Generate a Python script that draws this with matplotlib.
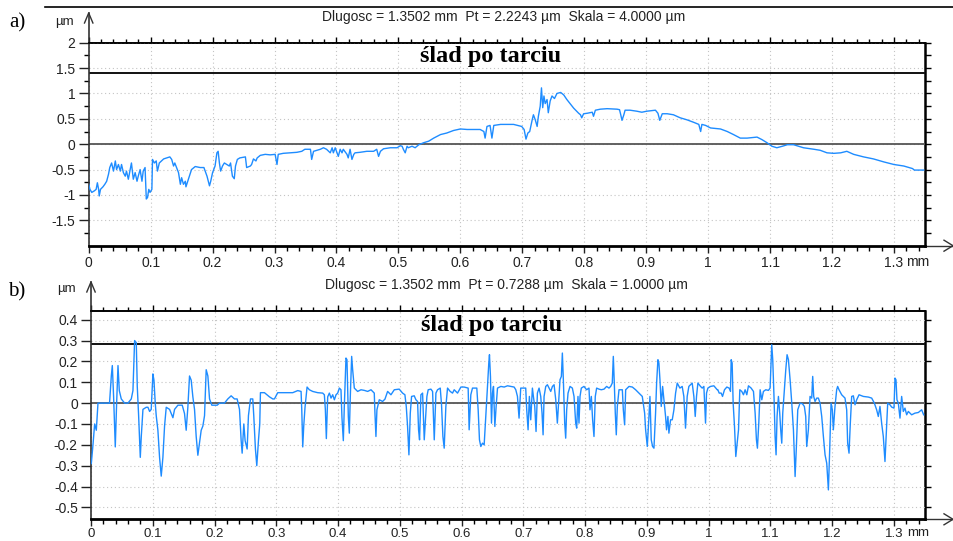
import matplotlib
matplotlib.use('Agg')
import matplotlib.pyplot as plt
from matplotlib.ticker import MultipleLocator, FixedLocator, FuncFormatter, NullLocator
from matplotlib.lines import Line2D

plt.rcParams['font.family'] = ['Liberation Sans', 'DejaVu Sans']
plt.rcParams['axes.unicode_minus'] = False

# ---------------- data: panel a (profile, mm / um) ----------------
a_x = [0.000, 0.002, 0.005, 0.009, 0.012, 0.014, 0.016, 0.017, 0.019, 0.023, 0.026, 0.029,
       0.032, 0.034, 0.037, 0.040, 0.043, 0.045, 0.048, 0.051, 0.053, 0.056, 0.059, 0.061,
       0.064, 0.067, 0.069, 0.072, 0.075, 0.078, 0.080, 0.083, 0.086, 0.088, 0.091, 0.093,
       0.095, 0.097, 0.099, 0.102, 0.103, 0.106, 0.109, 0.111, 0.114, 0.121, 0.126, 0.131,
       0.134, 0.137, 0.139, 0.145, 0.148, 0.150, 0.153, 0.156, 0.157, 0.161, 0.166, 0.172,
       0.180, 0.186, 0.191, 0.195, 0.197, 0.200, 0.204, 0.207, 0.209, 0.211, 0.213, 0.216,
       0.219, 0.223, 0.227, 0.229, 0.232, 0.235, 0.237, 0.240, 0.244, 0.253, 0.255, 0.261,
       0.263, 0.266, 0.270, 0.272, 0.277, 0.285, 0.293, 0.301, 0.304, 0.306, 0.314, 0.325,
       0.336, 0.344, 0.349, 0.358, 0.360, 0.363, 0.374, 0.379, 0.384, 0.390, 0.393, 0.395,
       0.398, 0.403, 0.406, 0.409, 0.411, 0.417, 0.419, 0.422, 0.425, 0.428, 0.430, 0.438,
       0.449, 0.460, 0.465, 0.468, 0.471, 0.476, 0.487, 0.498, 0.503, 0.506, 0.508, 0.511,
       0.514, 0.516, 0.522, 0.527, 0.533, 0.541, 0.549, 0.557, 0.568, 0.578, 0.589, 0.600,
       0.611, 0.632, 0.638, 0.640, 0.643, 0.648, 0.651, 0.654, 0.665, 0.686, 0.699, 0.703,
       0.706, 0.709, 0.712, 0.716, 0.718, 0.721, 0.724, 0.726, 0.729, 0.731, 0.733, 0.735,
       0.737, 0.740, 0.742, 0.745, 0.748, 0.752, 0.756, 0.762, 0.767, 0.772, 0.783, 0.791,
       0.794, 0.796, 0.799, 0.805, 0.813, 0.815, 0.818, 0.826, 0.837, 0.853, 0.857, 0.859,
       0.861, 0.864, 0.866, 0.874, 0.885, 0.893, 0.901, 0.915, 0.919, 0.922, 0.926, 0.934,
       0.944, 0.955, 0.966, 0.977, 0.985, 0.988, 0.990, 0.996, 1.004, 1.020, 1.031, 1.041,
       1.052, 1.063, 1.079, 1.087, 1.095, 1.103, 1.111, 1.120, 1.128, 1.138, 1.146, 1.154,
       1.171, 1.181, 1.192, 1.203, 1.214, 1.224, 1.235, 1.251, 1.267, 1.284, 1.300, 1.316,
       1.330, 1.333, 1.337, 1.348]
a_y = [-0.79, -0.89, -0.95, -0.92, -0.89, -0.76, -0.89, -1.02, -0.89, -0.84, -0.79, -0.73,
       -0.59, -0.46, -0.37, -0.53, -0.33, -0.50, -0.40, -0.53, -0.40, -0.56, -0.63, -0.53,
       -0.69, -0.50, -0.37, -0.69, -0.56, -0.73, -0.63, -0.50, -0.73, -0.53, -0.46, -1.08,
       -1.05, -0.89, -0.95, -0.89, -0.30, -0.37, -0.33, -0.53, -0.37, -0.29, -0.27, -0.25,
       -0.30, -0.43, -0.37, -0.56, -0.79, -0.66, -0.79, -0.73, -0.84, -0.69, -0.50, -0.44,
       -0.46, -0.46, -0.63, -0.82, -0.73, -0.56, -0.43, -0.17, -0.14, -0.37, -0.53, -0.43,
       -0.37, -0.40, -0.43, -0.37, -0.63, -0.68, -0.43, -0.30, -0.27, -0.25, -0.46, -0.43,
       -0.40, -0.29, -0.33, -0.27, -0.22, -0.20, -0.21, -0.20, -0.40, -0.20, -0.18, -0.17,
       -0.16, -0.14, -0.10, -0.10, -0.30, -0.14, -0.10, -0.07, -0.10, -0.17, -0.07, -0.17,
       -0.07, -0.24, -0.10, -0.17, -0.10, -0.20, -0.27, -0.10, -0.30, -0.20, -0.17, -0.16,
       -0.14, -0.14, -0.10, -0.24, -0.14, -0.09, -0.07, -0.07, -0.03, -0.04, -0.10, -0.17,
       -0.04, -0.07, -0.04, -0.07, -0.01, 0.03, 0.06, 0.12, 0.19, 0.22, 0.27, 0.30,
       0.29, 0.29, 0.25, 0.12, 0.35, 0.37, 0.12, 0.37, 0.39, 0.39, 0.35, 0.29,
       0.10, 0.22, 0.25, 0.48, 0.58, 0.48, 0.35, 0.55, 0.75, 1.11, 0.72, 0.95,
       0.80, 0.88, 0.62, 0.85, 0.95, 0.90, 1.00, 1.02, 0.97, 0.88, 0.71, 0.61,
       0.58, 0.52, 0.60, 0.61, 0.63, 0.55, 0.67, 0.69, 0.70, 0.69, 0.68, 0.58,
       0.47, 0.58, 0.67, 0.67, 0.65, 0.63, 0.65, 0.67, 0.61, 0.47, 0.60, 0.60,
       0.58, 0.52, 0.48, 0.43, 0.39, 0.25, 0.39, 0.37, 0.32, 0.30, 0.25, 0.19,
       0.12, 0.12, 0.14, 0.09, 0.03, -0.04, -0.07, -0.04, -0.01, -0.01, -0.04, -0.07,
       -0.10, -0.12, -0.17, -0.18, -0.17, -0.14, -0.20, -0.25, -0.29, -0.35, -0.40, -0.43,
       -0.48, -0.51, -0.51, -0.51]

# ---------------- data: panel b (profile, mm / um) ----------------
b_x = [0.0005, 0.0032, 0.0059, 0.0086, 0.0113, 0.0300, 0.0329, 0.0345, 0.0366, 0.0383, 0.0393,
       0.0415, 0.0437, 0.0458, 0.0490, 0.0544, 0.0598, 0.0652, 0.0679, 0.0706, 0.0733, 0.0749,
       0.0771, 0.0798, 0.0814, 0.0841, 0.0895, 0.0922, 0.0949, 0.0975, 0.1002, 0.1019, 0.1040,
       0.1056, 0.1083, 0.1110, 0.1137, 0.1164, 0.1191, 0.1218, 0.1272, 0.1326, 0.1353, 0.1407,
       0.1477, 0.1514, 0.1541, 0.1568, 0.1595, 0.1622, 0.1649, 0.1676, 0.1703, 0.1730, 0.1784,
       0.1811, 0.1838, 0.1865, 0.1892, 0.1919, 0.1956, 0.2043, 0.2080, 0.2161, 0.2215, 0.2269,
       0.2323, 0.2366, 0.2404, 0.2431, 0.2447, 0.2474, 0.2495, 0.2528, 0.2549, 0.2582, 0.2619,
       0.2635, 0.2662, 0.2684, 0.2711, 0.2732, 0.2743, 0.2808, 0.2889, 0.2943, 0.2970, 0.3023,
       0.3104, 0.3185, 0.3266, 0.3347,
       0.3401, 0.3412, 0.3428, 0.3444, 0.3465, 0.3498, 0.3535, 0.3589, 0.3670, 0.3751, 0.3778,
       0.3794, 0.3810, 0.3832, 0.3859, 0.3886, 0.3913, 0.3940, 0.3967, 0.3994, 0.4021, 0.4047,
       0.4063, 0.4085, 0.4101, 0.4128, 0.4144, 0.4166, 0.4182, 0.4198, 0.4220, 0.4236, 0.4263,
       0.4317, 0.4371, 0.4425, 0.4479, 0.4533, 0.4586, 0.4597, 0.4613, 0.4629, 0.4667, 0.4721,
       0.4759, 0.4802, 0.4856, 0.4910, 0.4990, 0.5044, 0.5082, 0.5104, 0.5125, 0.5147, 0.5169,
       0.5190, 0.5233, 0.5260, 0.5287, 0.5303, 0.5319, 0.5341, 0.5368, 0.5395, 0.5411, 0.5438,
       0.5459, 0.5503, 0.5530, 0.5557, 0.5584, 0.5610, 0.5654, 0.5675, 0.5697, 0.5718, 0.5745,
       0.5772, 0.5815, 0.5853, 0.5880, 0.5934, 0.5988, 0.6041, 0.6106, 0.6122, 0.6149, 0.6176,
       0.6246, 0.6268, 0.6289, 0.6311, 0.6338, 0.6365, 0.6392, 0.6419, 0.6440, 0.6451, 0.6467,
       0.6484, 0.6500, 0.6516, 0.6538, 0.6559, 0.6581, 0.6635, 0.6689, 0.6743,
       0.6850, 0.6877, 0.6904, 0.6930, 0.6957, 0.7001, 0.7038, 0.7054, 0.7076, 0.7097, 0.7119,
       0.7146, 0.7162, 0.7184, 0.7205, 0.7227, 0.7254, 0.7281, 0.7302, 0.7319, 0.7335, 0.7362,
       0.7389, 0.7416, 0.7443, 0.7470, 0.7497, 0.7524, 0.7550, 0.7567, 0.7593, 0.7615, 0.7631,
       0.7647, 0.7669, 0.7685, 0.7701, 0.7723, 0.7755, 0.7793, 0.7820, 0.7847, 0.7863, 0.7884,
       0.7900, 0.7917, 0.7938, 0.7981, 0.8024, 0.8062, 0.8078, 0.8100, 0.8121, 0.8143, 0.8164,
       0.8186, 0.8224, 0.8261, 0.8305, 0.8348, 0.8386, 0.8413, 0.8439, 0.8456, 0.8472, 0.8488,
       0.8504, 0.8521, 0.8548, 0.8602, 0.8618, 0.8639, 0.8656, 0.8710, 0.8764, 0.8817, 0.8871,
       0.8925, 0.8963, 0.8979, 0.9006, 0.9033, 0.9049, 0.9070, 0.9092, 0.9114, 0.9140, 0.9157,
       0.9178, 0.9194, 0.9211, 0.9232, 0.9254, 0.9275, 0.9302, 0.9318, 0.9340, 0.9356, 0.9383,
       0.9410, 0.9437, 0.9464, 0.9491, 0.9534, 0.9571, 0.9598, 0.9625, 0.9652, 0.9679, 0.9733,
       0.9760, 0.9782, 0.9803, 0.9825, 0.9868, 0.9895, 0.9922, 0.9949, 0.9965, 0.9987, 1.0030,
       1.0084, 1.0138,
       1.0148, 1.0170, 1.0202, 1.0224, 1.0256, 1.0294, 1.0331, 1.0353, 1.0364, 1.0380, 1.0396,
       1.0418, 1.0439, 1.0461, 1.0483, 1.0504, 1.0536, 1.0563, 1.0590, 1.0617, 1.0644, 1.0687,
       1.0725, 1.0752, 1.0773, 1.0789, 1.0811, 1.0833, 1.0860, 1.0886, 1.0924, 1.0967, 1.0994,
       1.1021, 1.1037, 1.1059, 1.1075, 1.1091, 1.1107, 1.1129, 1.1150, 1.1166, 1.1183, 1.1199,
       1.1226, 1.1248, 1.1269, 1.1291, 1.1318, 1.1345, 1.1372, 1.1399, 1.1420, 1.1442, 1.1479,
       1.1517, 1.1549, 1.1571, 1.1587, 1.1614, 1.1641, 1.1668, 1.1684, 1.1700, 1.1722, 1.1749,
       1.1776, 1.1803, 1.1830, 1.1857, 1.1884, 1.1911, 1.1938, 1.1959, 1.1981, 1.2002, 1.2018,
       1.2045, 1.2072, 1.2088, 1.2110, 1.2153, 1.2207, 1.2234, 1.2250, 1.2272, 1.2293, 1.2315,
       1.2342, 1.2369, 1.2396, 1.2434, 1.2504, 1.2585, 1.2639, 1.2682, 1.2719, 1.2746, 1.2773,
       1.2800, 1.2827, 1.2854, 1.2881, 1.2898, 1.2935, 1.2962, 1.3000, 1.3016, 1.3032, 1.3048,
       1.3070, 1.3097, 1.3124, 1.3151, 1.3178, 1.3205, 1.3232, 1.3286, 1.3340, 1.3394, 1.3448,
       1.3480]
b_y = [-0.29, -0.20, -0.10, -0.13, 0.00, 0.00, 0.13, 0.18, 0.03, -0.13, -0.21,
       0.00, 0.18, 0.06, 0.02, 0.00, 0.00, 0.02, 0.06, 0.30, 0.29, 0.08,
       -0.06, -0.26, -0.16, -0.03, -0.02, -0.02, -0.04, -0.03, 0.14, 0.11, 0.00,
       -0.06, -0.13, -0.26, -0.35, -0.26, -0.11, -0.02, -0.03, -0.07, -0.03, -0.01,
       -0.01, -0.05, -0.13, -0.02, 0.13, 0.11, 0.03, -0.03, -0.16, -0.25, -0.13,
       -0.11, -0.06, 0.16, 0.13, 0.02, -0.01, -0.01, 0.00, 0.00, 0.02, 0.035,
       0.02, 0.02, -0.03, -0.18, -0.24, -0.10, -0.18, -0.22, -0.06, 0.02, 0.02,
       -0.06, -0.22, -0.30, -0.18, -0.10, 0.05, 0.05, 0.03, 0.02, 0.02, 0.05,
       0.05, 0.05, 0.05, 0.06,
       0.056, -0.03, -0.21, -0.11, -0.02, 0.077, 0.064, 0.056, 0.05, 0.048, 0.04,
       -0.03, -0.17, 0.03, 0.048, 0.024, 0.04, 0.016, 0.04, 0.048, 0.072, 0.064,
       -0.07, -0.18, -0.016, 0.216, 0.208, -0.064, -0.144, 0.032, 0.224, 0.16, 0.072,
       0.056, 0.064, 0.061, 0.056, 0.064, 0.048, -0.048, -0.16, -0.032, 0.016, 0.008,
       0.019, 0.056, 0.04, 0.064, 0.067, 0.048, 0.04, -0.016, -0.112, -0.248, -0.048,
       0.032, 0.035, 0.016, 0.008, -0.128, -0.176, 0.04, 0.048, -0.176, -0.096, 0.032,
       0.064, 0.067, 0.056, -0.176, 0.048, 0.064, 0.072, -0.008, -0.16, -0.216, -0.016,
       0.072, 0.056, 0.048, 0.064, 0.048, 0.077, 0.077, 0.072, -0.128, 0.04, 0.072,
       0.072, -0.032, -0.176, -0.208, -0.192, -0.2, -0.064, 0.08, 0.192, 0.232, 0.128,
       -0.096, 0.048, 0.08, -0.112, -0.016, 0.072, 0.08, 0.077, 0.083,
       0.077, 0.064, 0.032, -0.072, 0.072, 0.072, 0.072, -0.032, -0.128, 0.032, -0.08,
       0.072, 0.032, -0.016, -0.136, 0.048, 0.072, 0.032, -0.048, -0.152, 0.032, 0.08,
       0.088, 0.072, 0.056, 0.08, 0.088, 0.016, -0.096, -0.016, 0.112, 0.128, 0.24,
       0.112, -0.096, -0.168, -0.032, 0.048, 0.08, 0.072, 0.032, -0.096, -0.12, 0.032,
       -0.096, 0.032, 0.072, 0.08, 0.064, 0.072, -0.032, 0.032, -0.08, -0.16, 0.032,
       0.072, 0.067, 0.064, 0.067, 0.08, 0.072, 0.08, 0.096, 0.224, 0.096, -0.048,
       -0.152, -0.016, 0.064, 0.064, -0.032, -0.104, 0.064, 0.08, 0.077, 0.064, 0.048,
       0.032, -0.048, -0.128, -0.208, -0.064, 0.032, -0.176, -0.208, -0.216, -0.048, 0.096,
       0.208, 0.192, 0.112, -0.016, 0.08, 0.016, -0.064, -0.128, -0.064, -0.144, -0.08,
       -0.08, -0.032, 0.048, 0.096, 0.072, 0.08, 0.032, -0.12, 0.032, 0.08, 0.096,
       0.032, -0.064, 0.032, 0.096, 0.08, 0.072, 0.08, -0.096, 0.048, 0.072, 0.08,
       0.083, 0.064,
       0.064, 0.048, 0.048, 0.032, 0.064, 0.077, 0.072, 0.056, 0.208, 0.192, 0.0,
       -0.112, -0.256, -0.192, -0.128, 0.064, 0.056, 0.04, 0.064, 0.04, 0.083, 0.072,
       0.056, -0.048, -0.176, -0.216, -0.096, 0.064, 0.016, 0.056, 0.064, 0.061, 0.072,
       0.28, 0.208, 0.016, -0.16, -0.248, -0.064, 0.032, -0.048, -0.128, -0.192, -0.048,
       0.064, 0.16, 0.232, 0.208, 0.112, 0.0, -0.128, -0.352, -0.208, -0.032, 0.0,
       -0.003, -0.016, -0.064, -0.208, -0.128, 0.032, 0.024, 0.128, 0.032, 0.008, 0.024,
       0.024, 0.0, -0.064, -0.16, -0.248, -0.288, -0.416, -0.224, 0.0, -0.032, -0.128,
       -0.016, 0.064, 0.08, 0.064, 0.04, 0.024, -0.032, -0.192, -0.24, -0.096, 0.032,
       0.035, -0.008, 0.016, 0.04, 0.032, 0.029, 0.024, 0.0, -0.032, -0.064, -0.016,
       -0.096, -0.16, -0.28, -0.112, 0.0, -0.008, -0.019, -0.024, 0.12, 0.112, 0.016,
       0.0, -0.072, 0.032, -0.04, -0.024, -0.056, -0.04, -0.056, -0.048, -0.045, -0.032,
       -0.056]

x_max = 1.3502
a_ylim = (-2.0, 2.0)
b_ylim = (-0.557, 0.443)
a_yticks = [-1.5, -1.0, -0.5, 0.0, 0.5, 1.0, 1.5, 2.0]
a_yminor = [-1.75, -1.25, -0.75, -0.25, 0.25, 0.75, 1.25, 1.75]
b_yticks = [-0.5, -0.4, -0.3, -0.2, -0.1, 0.0, 0.1, 0.2, 0.3, 0.4]
a_thr = 1.41
b_thr = 0.285
a_header = 'Dlugosc = 1.3502 mm  Pt = 2.2243 µm  Skala = 4.0000 µm'
b_header = 'Dlugosc = 1.3502 mm  Pt = 0.7288 µm  Skala = 1.0000 µm'
trace_label = 'ślad po tarciu'

W, H = 954, 541
fig = plt.figure(figsize=(W / 100, H / 100), dpi=100)


def fxp(px):
    return px / W


def fyp(py):
    return 1 - py / H


LINE = '#1e8cff'
GRID = '#c4c4c4'


def gfmt(v, pos):
    if abs(v) < 1e-9:
        v = 0.0
    return '%g' % round(v, 3)


def build(rect, xs, ys, ylim, yticks, yminor, thr, header, hdr_xy, mu_xy, letter, letter_xy,
          label_y, arrow_top, mm_xy, xpad, xsize):
    ax = fig.add_axes(rect)
    ax.plot(xs, ys, color=LINE, lw=1.0, zorder=3)
    ax.set_xlim(0, x_max)
    ax.set_ylim(*ylim)
    ax.xaxis.set_major_locator(MultipleLocator(0.1))
    ax.xaxis.set_minor_locator(MultipleLocator(0.02))
    ax.xaxis.set_major_formatter(FuncFormatter(gfmt))
    ax.yaxis.set_major_locator(FixedLocator(yticks))
    if yminor is not None:
        ax.yaxis.set_minor_locator(FixedLocator(yminor))
    else:
        ax.yaxis.set_minor_locator(NullLocator())
    ax.yaxis.set_major_formatter(FuncFormatter(gfmt))
    ax.grid(True, which='major', color=GRID, linestyle=(0, (1, 2.5)), lw=0.8, zorder=0)
    ax.axhline(0, color='#555555', lw=1.3, zorder=2)
    ax.axhline(thr, color='#111111', lw=1.4, zorder=2)
    ax.tick_params(axis='x', which='major', direction='out', length=5, width=1.0,
                   labelsize=xsize, pad=xpad, colors='#222222')
    ax.tick_params(axis='x', which='minor', direction='out', length=3.5, width=1.0)
    ax.tick_params(axis='y', which='major', direction='out', length=7, width=1.0,
                   labelsize=10, pad=2.5, colors='#222222')
    ax.tick_params(axis='y', which='minor', direction='out', length=3.5, width=1.0)
    ax.spines['left'].set_linewidth(1.2)
    ax.spines['left'].set_color('#333333')
    ax.spines['bottom'].set_linewidth(2.0)
    ax.spines['right'].set_visible(False)
    ax.spines['top'].set_linewidth(1.2)

    top = ax.secondary_xaxis('top')
    top.xaxis.set_major_locator(MultipleLocator(0.1))
    top.xaxis.set_minor_locator(MultipleLocator(0.02))
    top.tick_params(which='major', direction='out', length=4, width=1.0, labeltop=False)
    top.tick_params(which='minor', direction='out', length=3, width=1.0)
    top.spines['top'].set_linewidth(1.2)

    right = ax.secondary_yaxis('right')
    rt = list(yticks) + (list(yminor) if yminor is not None else [])
    right.yaxis.set_major_locator(FixedLocator(sorted(rt)))
    right.yaxis.set_minor_locator(NullLocator())
    right.tick_params(which='major', direction='out', length=4.5, width=1.0, labelright=False)
    right.spines['right'].set_linewidth(1.8)

    ax.text(0.48, label_y, trace_label, transform=ax.transAxes, ha='center', va='center',
            fontsize=17.5, fontweight='bold', family=['Liberation Serif', 'DejaVu Serif'],
            zorder=4)

    # header & decorations
    fig.text(fxp(hdr_xy[0]), fyp(hdr_xy[1]), header, ha='center', va='center', fontsize=10,
             color='#222222')
    fig.text(fxp(mu_xy[0]), fyp(mu_xy[1]), 'µm', ha='center', va='center', fontsize=9.5,
             color='#222222')
    fig.text(fxp(letter_xy[0]), fyp(letter_xy[1]), letter, ha='center', va='center',
             fontsize=15, family=['Liberation Serif', 'DejaVu Serif'])
    fig.text(fxp(mm_xy[0]), fyp(mm_xy[1]), 'mm', ha='left', va='center', fontsize=xsize,
             color='#222222')

    # axis arrows (in axes fraction)
    x0, y0, w, h = rect
    ax_top = 1 + (arrow_top - (y0 + h)) / h
    ax.add_line(Line2D([0, 0], [1, ax_top], transform=ax.transAxes, color='#333333',
                       lw=1.2, clip_on=False))
    dx = 4.2 / (w * W)
    dy = 10 / (h * H)
    ax.add_line(Line2D([-dx, 0, dx], [ax_top - dy, ax_top, ax_top - dy], transform=ax.transAxes,
                       color='#333333', lw=1.0, clip_on=False))
    x_end = 1 + 28 / (w * W)
    ax.add_line(Line2D([1, x_end], [0, 0], transform=ax.transAxes, color='#333333',
                       lw=1.0, clip_on=False))
    ddx = 9 / (w * W)
    ddy = 5.5 / (h * H)
    ax.add_line(Line2D([x_end - ddx, x_end, x_end - ddx], [ddy, 0, -ddy],
                       transform=ax.transAxes, color='#333333', lw=1.0, clip_on=False))
    return ax


rect_a = [fxp(88.7), fyp(245.7), (925 - 88.7) / W, (245.7 - 42.7) / H]
rect_b = [fxp(91), fyp(519.3), (925 - 91) / W, (519.3 - 310.7) / H]

build(rect_a, a_x, a_y, a_ylim, a_yticks, a_yminor, a_thr, a_header, (504, 16.7), (64, 21.7),
      'a)', (17.5, 23), 0.93, fyp(13), (906, 262), 2.5, 10)
build(rect_b, b_x, b_y, b_ylim, b_yticks, None, b_thr, b_header, (506, 285), (66, 289),
      'b)', (17, 292), 0.927, fyp(282), (907, 533.5), 1.0, 9.5)

fig.add_artist(Line2D([fxp(45), 1.0], [fyp(7), fyp(7)], color='black', lw=1.2))

fig.savefig('out.png', dpi=100)
